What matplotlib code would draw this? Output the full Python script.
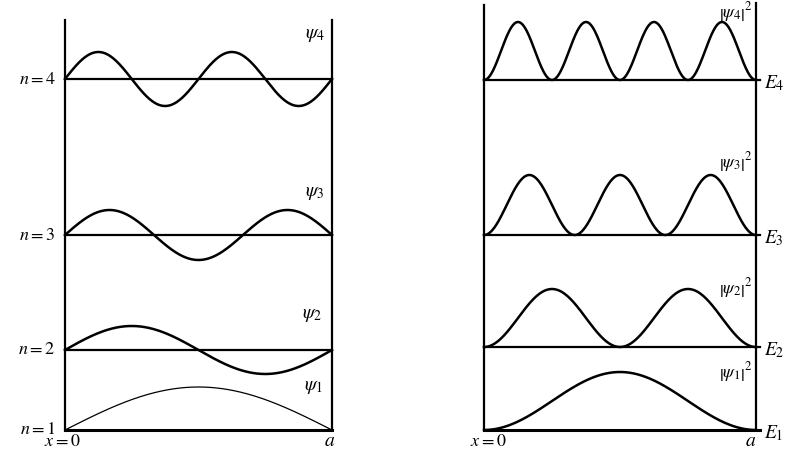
import numpy as np
import matplotlib.pyplot as plt

plt.rcParams["font.family"] = ["Liberation Serif", "DejaVu Serif"]
plt.rcParams["mathtext.fontset"] = "stix"

# quantum numbers and drawing levels (arbitrary units)
n_vals = [1, 2, 3, 4]
psi_levels = [0, 80, 195, 351]
psi_amps = [43, 24, 25, 27]
prob_levels = [0, 83, 195, 350]
prob_amps = [58, 58, 60, 58]

psi_labels = [r"$\psi_1$", r"$\psi_2$", r"$\psi_3$", r"$\psi_4$"]
prob_labels = [r"$\left|\psi_1\right|^2$", r"$\left|\psi_2\right|^2$",
               r"$\left|\psi_3\right|^2$", r"$\left|\psi_4\right|^2$"]
level_labels = [r"$n = 1$", r"$n = 2$", r"$n = 3$", r"$n = 4$"]
energy_labels = [r"$E_1$", r"$E_2$", r"$E_3$", r"$E_4$"]

W, H = 802, 455
fig = plt.figure(figsize=(W / 100, H / 100), dpi=100)


def make_ax(x0, x1):
    # axes spanning the well: x in units of a, y in drawing units
    ax = fig.add_axes([x0 / W, (H - 430) / H, (x1 - x0) / W, 430 / H])
    ax.set_xlim(0, 1)
    ax.set_ylim(0, 430)
    ax.axis("off")
    return ax


x = np.linspace(0, 1, 400)
lw = 1.6

# ---- left: wavefunctions ----
axl = make_ax(65, 332)
axl.plot([0, 0], [0, 410], color="black", lw=lw, clip_on=False)
axl.plot([1, 1], [0, 410], color="black", lw=lw, clip_on=False)
for n, lev, amp, nl in zip(n_vals, psi_levels, psi_amps, level_labels):
    axl.plot([0, 1], [lev, lev], color="black", lw=2.2 if n == 1 else lw, clip_on=False)
    axl.plot(x, lev + amp * np.sin(n * np.pi * x), color="black",
             lw=0.9 if n == 1 else 1.8, clip_on=False)
    axl.text(-0.035, lev, nl, ha="right", va="center", fontsize=13)
lab_pos_l = [(0.93, 43), (0.925, 115), (0.935, 237), (0.935, 395)]
for (px, py), lab in zip(lab_pos_l, psi_labels):
    axl.text(px, py, lab, ha="center", va="center", fontsize=14)
axl.text(-0.01, -12, r"$x = 0$", ha="center", va="center", fontsize=13)
axl.text(0.99, -12, r"$a$", ha="center", va="center", fontsize=14)

# ---- right: probability densities ----
axr = make_ax(484, 756)
axr.plot([0, 0], [0, 425], color="black", lw=lw, clip_on=False)
axr.plot([1, 1], [0, 427], color="black", lw=lw, clip_on=False)
for n, lev, amp, el in zip(n_vals, prob_levels, prob_amps, energy_labels):
    axr.plot([0, 1.015], [lev, lev], color="black", lw=2.2 if n == 1 else lw, clip_on=False)
    axr.plot(x, lev + amp * np.sin(n * np.pi * x) ** 2, color="black", lw=1.8, clip_on=False)
    axr.text(1.03, lev - 3, el, ha="left", va="center", fontsize=14)
lab_pos_r = [(0.925, 58), (0.925, 142), (0.925, 268), (0.925, 418)]
for (px, py), lab in zip(lab_pos_r, prob_labels):
    axr.text(px, py, lab, ha="center", va="center", fontsize=13)
axr.text(0.015, -12, r"$x = 0$", ha="center", va="center", fontsize=13)
axr.text(0.98, -12, r"$a$", ha="center", va="center", fontsize=14)

fig.savefig("out.png", dpi=100, facecolor="white")
